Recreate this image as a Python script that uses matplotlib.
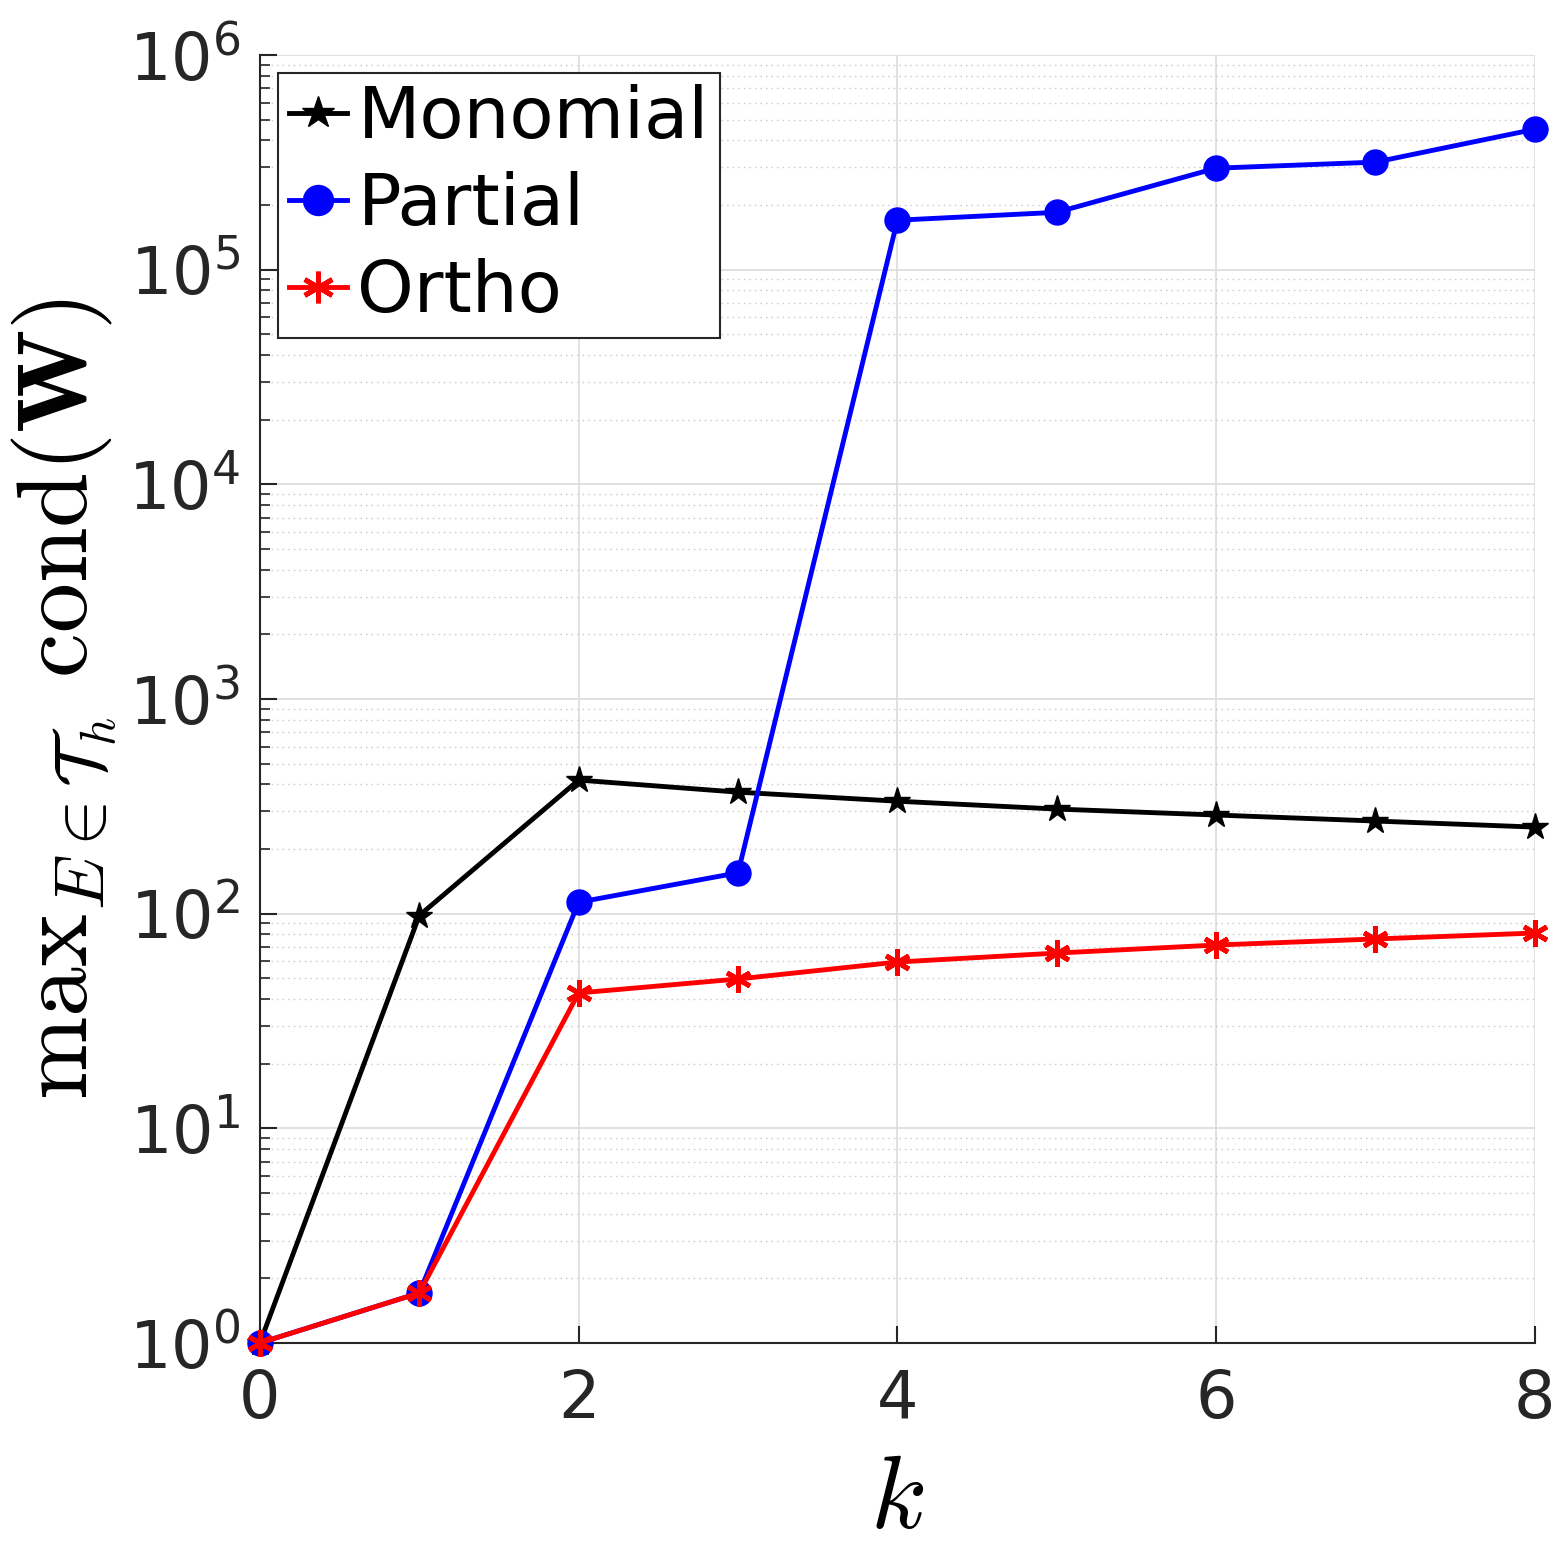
import matplotlib
matplotlib.use("Agg")
import matplotlib.pyplot as plt
from matplotlib.ticker import LogLocator, NullFormatter

k = [0, 1, 2, 3, 4, 5, 6, 7, 8]
monomial = [1.0, 98, 419, 368, 334, 307, 288, 270, 253]
partial = [1.0, 1.71, 113, 155, 1.70e5, 1.85e5, 2.97e5, 3.17e5, 4.51e5]
ortho = [1.0, 1.71, 42.7, 49.6, 59.5, 65.5, 71.4, 76.2, 81.2]
xticks = [0, 2, 4, 6, 8]

plt.rcParams['mathtext.fontset'] = 'cm'
fig = plt.figure(figsize=(15.63, 15.63), dpi=100)
ax = fig.add_axes([0.1663, 0.1408, 0.8157, 0.824])

lw = 3.5
ax.plot(k, monomial, color='black', lw=lw, marker='*', ms=20, label='Monomial', zorder=3, clip_on=False)
ax.plot(k, partial, color='blue', lw=lw, marker='o', ms=18, label='Partial', zorder=3, clip_on=False)
ax.plot(k, ortho, color='red', lw=lw, marker=(6, 2, 0), ms=19, mew=3.5, label='Ortho', zorder=4, clip_on=False)

ax.set_yscale('log')
ax.set_xlim(0, 8)
ax.set_ylim(1, 1e6)
ax.set_xticks(xticks)
ax.yaxis.set_major_locator(LogLocator(base=10, numticks=10))
ax.yaxis.set_minor_locator(LogLocator(base=10, subs=range(2, 10), numticks=100))
ax.yaxis.set_minor_formatter(NullFormatter())

ax.grid(True, which='major', color='#dcdcdc', lw=1.2, ls='-')
ax.grid(True, which='minor', axis='y', color='#c8c8c8', lw=1.0, ls=(0, (1, 3)))

for s in ['top', 'right']:
    ax.spines[s].set_visible(False)
for s in ['left', 'bottom']:
    ax.spines[s].set_color('#262626')
    ax.spines[s].set_linewidth(1.5)

ax.tick_params(axis='both', which='major', direction='in', length=12, width=1.5,
               labelsize=47, colors='#262626')
ax.tick_params(axis='x', which='major', pad=18)
ax.tick_params(axis='y', which='major', pad=14)
ax.tick_params(axis='y', which='minor', direction='in', length=7, width=1.2, colors='#262626')

ax.set_xlabel(r'$k$', fontsize=74, labelpad=12)
ax.set_ylabel(r'$\mathrm{max}_{E\in\mathcal{T}_h}\ \mathrm{cond}(\mathbf{W})$', fontsize=72, labelpad=6)

leg = ax.legend(loc='upper left', fontsize=52, frameon=True, fancybox=False,
                edgecolor='#262626', framealpha=1, borderpad=0.15, handlelength=0.8,
                handletextpad=0.15, labelspacing=0.25, borderaxespad=0.25, markerscale=1.2)
leg.get_frame().set_linewidth(1.5)

fig.savefig('out.png', dpi=100)
